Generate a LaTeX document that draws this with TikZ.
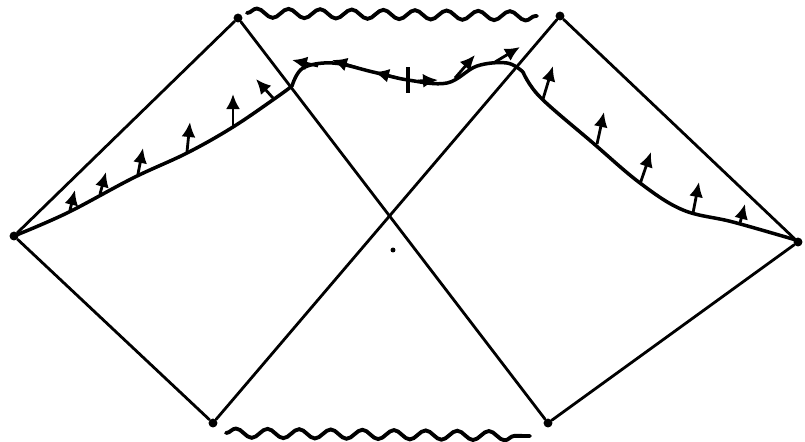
\documentclass[tikz,border=0pt]{standalone}
\usepackage{tikz}
\usetikzlibrary{arrows.meta, decorations.pathmorphing}
\tikzset{
  edge/.style={line width=1.6pt, line cap=round},
  curve/.style={line width=2pt, line cap=round, line join=round},
  sing/.style={line width=2.2pt, line cap=round, decorate,
    decoration={snake, amplitude=2.6pt, segment length=18pt}},
  corner/.style={circle, fill, inner sep=1.8pt},
  flux/.style={-{Latex[length=3mm, width=2.8mm]}, line width=1.6pt},
}

\begin{document}
\begin{tikzpicture}[x=0.02cm, y=-0.02cm]
  \useasboundingbox (0,0) rectangle (805,441);

  \node[corner] (left) at (14,236) {};
  \node[corner] (right) at (798,242) {};
  \node[corner] (tl) at (238,18) {};
  \node[corner] (tr) at (560,16) {};
  \node[corner] (bl) at (213,423) {};
  \node[corner] (br) at (548,423) {};
  \node[circle, fill, inner sep=1pt] (mid) at (393,250) {};

  \draw[edge] (left) -- (tl);
  \draw[edge] (left) -- (bl);
  \draw[edge] (right) -- (tr);
  \draw[edge] (right) -- (br);
  \draw[edge] (tl) -- (br);
  \draw[edge] (tr) -- (bl);

  % singularities
  \coordinate (s1) at (247,13);
  \coordinate (s2) at (537,16);
  \coordinate (s3) at (226,433);
  \coordinate (s4) at (530,436);
  \draw[sing] (s1) -- (s2);
  \draw[sing] (s3) -- (s4);

  % horizon shell
  \draw[curve] plot[smooth, tension=0.6] coordinates
    {(14,236) (67,213) (133,178) (187,153) (233,127) (277,97) (292,86)};
  \draw[curve] plot[smooth, tension=0.6] coordinates
    {(292,86) (303,68) (333,63) (373,72) (408,80) (447,83) (477,66) (507,63) (523,72)};
  \draw[curve] plot[smooth, tension=0.6] coordinates
    {(523,72) (540,97) (593,143) (640,183) (683,210) (733,222) (796,240)};
  \draw[line width=1.8pt] (408,67) -- (408,93);

  \draw[flux] (70,210) -- (75,190);
  \draw[flux] (100,194) -- (106,172);
  \draw[flux] (138,174) -- (143,148);
  \draw[flux] (187,152) -- (190,122);
  \draw[flux] (233,126) -- (233,94);
  \draw[flux] (273,98) -- (256,79);

  \draw[flux] (318,66) -- (292,60);
  \draw[flux] (358,68) -- (332,60);
  \draw[flux] (398,78) -- (374,72);
  \draw[flux] (418,81) -- (438,80);
  \draw[flux] (455,78) -- (475,55);
  \draw[flux] (495,62) -- (520,47);

  \draw[flux] (543,99) -- (553,66);
  \draw[flux] (597,144) -- (604,112);
  \draw[flux] (640,184) -- (651,152);
  \draw[flux] (693,213) -- (699,182);
  \draw[flux] (740,223) -- (745,204);
\end{tikzpicture}
\end{document}
